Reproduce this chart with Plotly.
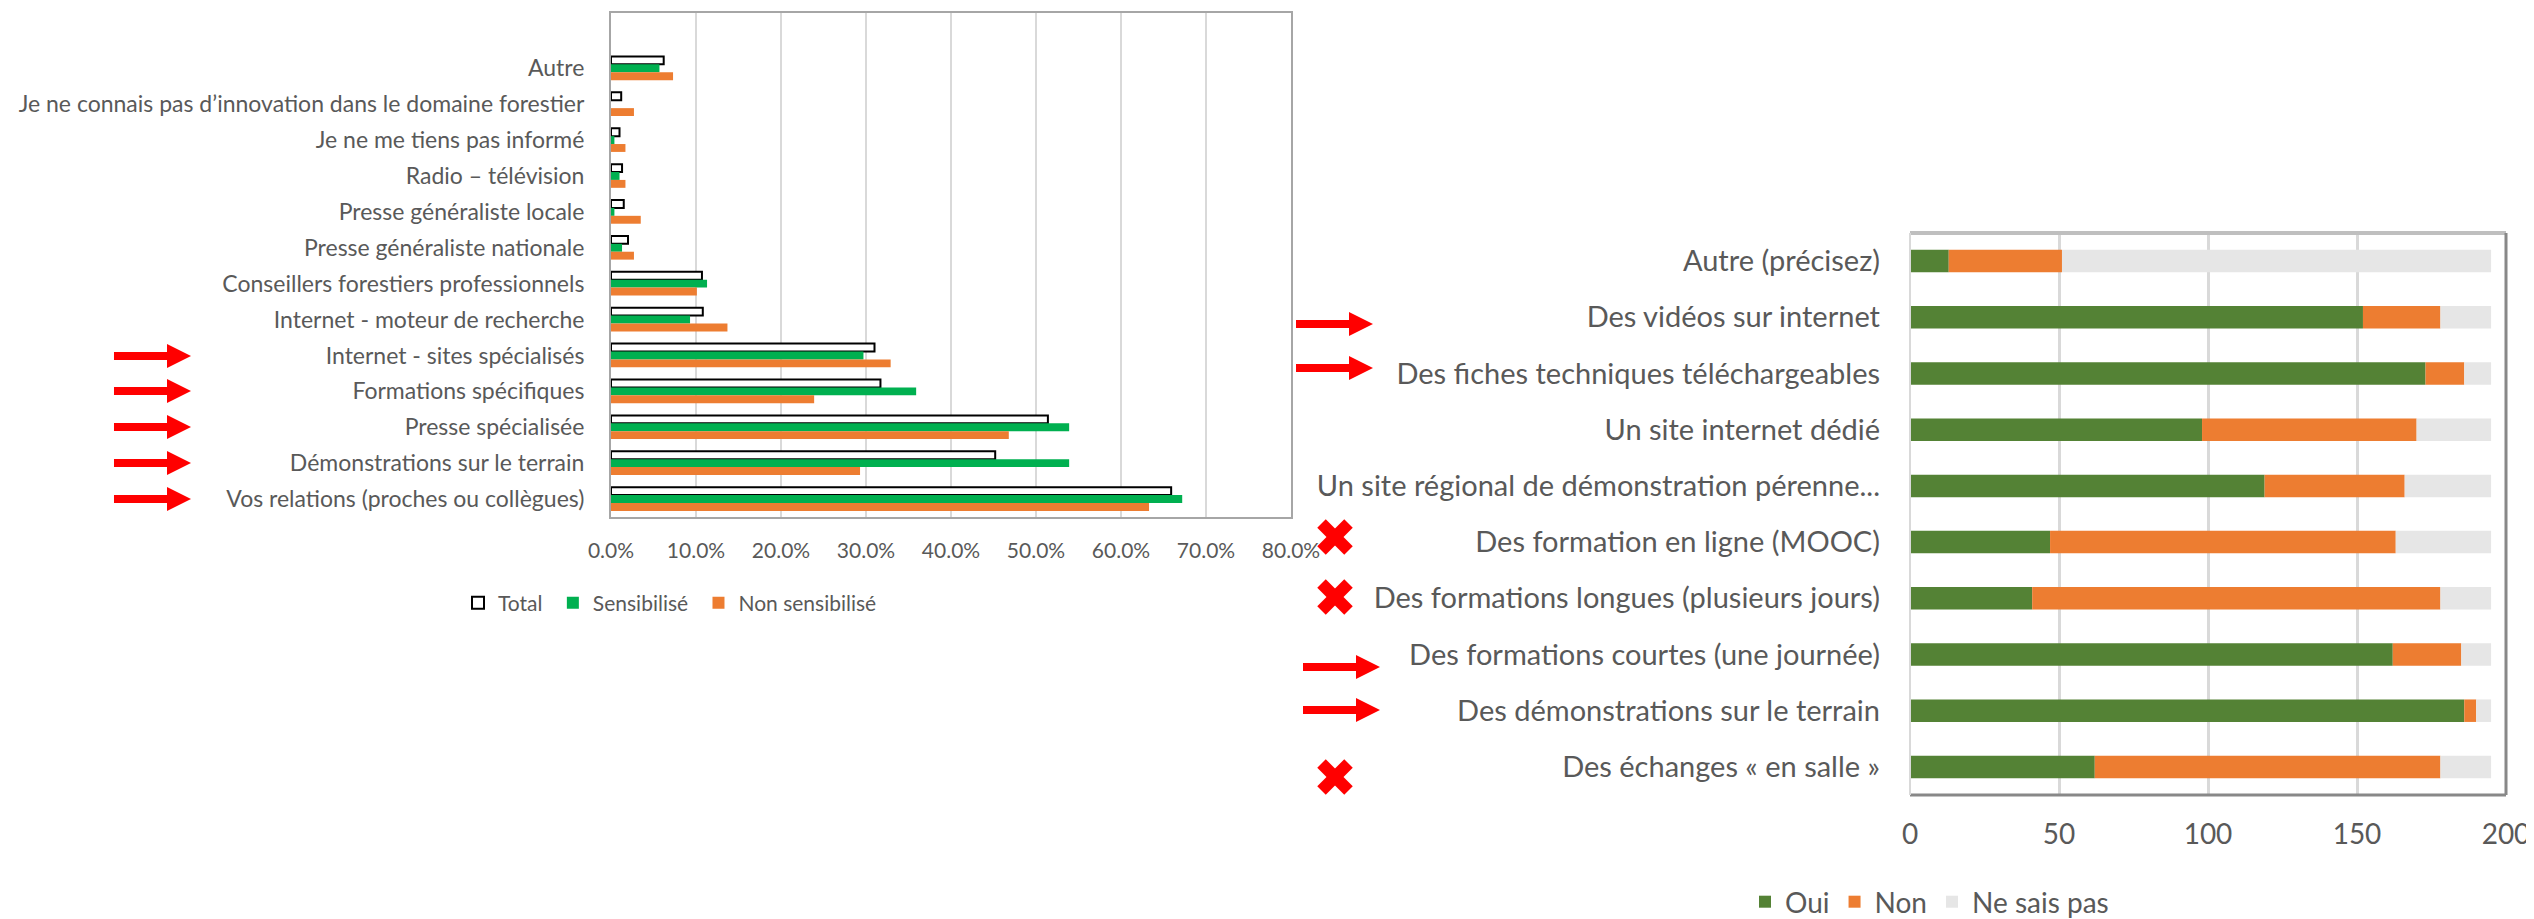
import plotly.graph_objects as go

# ---------------- Data ----------------
left_categories = [
    "Autre",
    "Je ne connais pas d’innovation dans le domaine forestier",
    "Je ne me tiens pas informé",
    "Radio – télévision",
    "Presse généraliste locale",
    "Presse généraliste nationale",
    "Conseillers forestiers professionnels",
    "Internet - moteur de recherche",
    "Internet - sites spécialisés",
    "Formations spécifiques",
    "Presse spécialisée",
    "Démonstrations sur le terrain",
    "Vos relations (proches ou collègues)",
]
total = [6.2, 1.2, 1.0, 1.3, 1.5, 2.0, 10.7, 10.8, 31.0, 31.7, 51.4, 45.2, 65.9]
sensibilise = [5.7, 0.0, 0.4, 1.0, 0.4, 1.3, 11.3, 9.3, 29.7, 35.9, 53.9, 53.9, 67.2]
non_sensibilise = [7.3, 2.7, 1.7, 1.7, 3.5, 2.7, 10.1, 13.7, 32.9, 23.9, 46.8, 29.3, 63.3]

right_categories = [
    "Autre (précisez)",
    "Des vidéos sur internet",
    "Des fiches techniques téléchargeables",
    "Un site internet dédié",
    "Un site régional de démonstration pérenne...",
    "Des formation en ligne (MOOC)",
    "Des formations longues (plusieurs jours)",
    "Des formations courtes (une journée)",
    "Des démonstrations sur le terrain",
    "Des échanges « en salle »",
]
oui = [13, 152, 173, 98, 119, 47, 41, 162, 186, 62]
non = [38, 26, 13, 72, 47, 116, 137, 23, 4, 116]
ne_sais_pas = [144, 17, 9, 25, 29, 32, 17, 10, 5, 17]

left_ticks = [0, 10, 20, 30, 40, 50, 60, 70, 80]
right_ticks = [0, 50, 100, 150, 200]

# ---------------- Figure ----------------
# the page body has a default 8px margin: the figure is drawn at (8, 8)
OFF = 8
W, H = 2534 - OFF, 919 - OFF
FONT = "Lato"
TXT = "#595959"

def px(x):
    return (x - OFF) / W

def py(y):
    return 1 - (y - OFF) / H

fig = go.Figure()

fig.add_trace(go.Bar(
    y=left_categories, x=total, name="Total\u00a0", orientation="h",
    marker=dict(color="white", line=dict(color="black", width=2)),
    xaxis="x", yaxis="y", legend="legend"))
fig.add_trace(go.Bar(
    y=left_categories, x=sensibilise, name="Sensibilisé\u00a0", orientation="h",
    marker=dict(color="#00B050", line=dict(width=0)),
    xaxis="x", yaxis="y", legend="legend"))
fig.add_trace(go.Bar(
    y=left_categories, x=non_sensibilise, name="Non sensibilisé", orientation="h",
    marker=dict(color="#ED7D31", line=dict(width=0)),
    xaxis="x", yaxis="y", legend="legend"))

base_non = oui
base_nsp = [a + b for a, b in zip(oui, non)]
for name, vals, base, col in [
    ("Oui", oui, [0] * len(oui), "#548235"),
    ("Non", non, base_non, "#ED7D31"),
    ("Ne sais pas", ne_sais_pas, base_nsp, "#E6E6E6"),
]:
    fig.add_trace(go.Bar(
        y=right_categories, x=vals, base=base, name=name, orientation="h",
        width=0.4, offset=-0.2,
        marker=dict(color=col, line=dict(width=0)),
        xaxis="x2", yaxis="y2", legend="legend2"))

# decorations: red arrows and crosses (pixel positions)
def arrow(x0, x1, y, shaft=8, head_len=24, head_h=24):
    xs = x1 - head_len
    pts = [(x0, y - shaft / 2), (xs, y - shaft / 2), (xs, y - head_h / 2), (x1, y),
           (xs, y + head_h / 2), (xs, y + shaft / 2), (x0, y + shaft / 2)]
    path = "M " + " L ".join(f"{px(a):.5f},{py(b):.5f}" for a, b in pts) + " Z"
    return dict(type="path", xref="paper", yref="paper", path=path,
                fillcolor="#FF0000", line=dict(width=0), layer="above")

def cross(cx, cy, r=13.5, w=12):
    out = []
    for (a, b, c, d) in [(cx - r, cy - r, cx + r, cy + r), (cx - r, cy + r, cx + r, cy - r)]:
        out.append(dict(type="line", xref="paper", yref="paper",
                        x0=px(a), y0=py(b), x1=px(c), y1=py(d),
                        line=dict(color="#FF0000", width=w), layer="above"))
    return out

shapes = []
for y in [356, 391, 427, 463, 499]:
    shapes.append(arrow(114, 191, y))
for y in [324, 368]:
    shapes.append(arrow(1296, 1373, y))
for y in [667, 710]:
    shapes.append(arrow(1303, 1380, y))
for y in [537, 597, 777]:
    shapes.extend(cross(1335, y))

# right chart border
shapes += [
    dict(type="line", xref="x2 domain", yref="y2 domain", x0=0, x1=1, y0=1, y1=1,
         line=dict(color="#BFBFBF", width=4)),
    dict(type="line", xref="x2 domain", yref="y2 domain", x0=1, x1=1, y0=0, y1=1,
         line=dict(color="#888888", width=3)),
    dict(type="line", xref="x2 domain", yref="y2 domain", x0=0, x1=1, y0=0, y1=0,
         line=dict(color="#888888", width=3)),
    dict(type="line", xref="x2 domain", yref="y2 domain", x0=0, x1=0, y0=0, y1=1,
         line=dict(color="#D9D9D9", width=2)),
]

fig.update_layout(
    width=W, height=H,
    margin=dict(l=0, r=0, t=0, b=0, autoexpand=False),
    paper_bgcolor="white", plot_bgcolor="white",
    font=dict(family=FONT, color=TXT),
    barmode="group", bargap=0.34, bargroupgap=0,
    showlegend=True,
    xaxis=dict(domain=[px(611), px(1291)], anchor="y", range=[0, 80], automargin=False,
               tickvals=left_ticks, ticktext=[f"{v:.1f}%" for v in left_ticks],
               showgrid=True, gridcolor="#D9D9D9", gridwidth=1.5,
               showline=True, linecolor="#A6A6A6", linewidth=2, mirror=True,
               zeroline=False, ticks="", ticklabelstandoff=14,
               tickfont=dict(size=21, color=TXT, family=FONT)),
    yaxis=dict(domain=[py(517), py(13)], anchor="x", type="category", automargin=False,
               range=[12.5, -1.54],
               showline=True, linecolor="#A6A6A6", linewidth=2, mirror=True,
               showgrid=False, ticks="", ticklabelstandoff=20,
               tickfont=dict(size=23, color=TXT, family=FONT)),
    xaxis2=dict(domain=[px(1910), px(2506)], anchor="y2", range=[0, 200], automargin=False,
                tickvals=right_ticks,
                showgrid=True, gridcolor="#D9D9D9", gridwidth=3,
                showline=False, zeroline=False, ticks="", ticklabelstandoff=20,
                tickfont=dict(size=28, color=TXT, family=FONT)),
    yaxis2=dict(domain=[py(795), py(233)], anchor="x2", type="category", automargin=False,
                range=[9.5, -0.5], showline=False, showgrid=False,
                ticks="", ticklabelstandoff=29,
                tickfont=dict(size=29, color=TXT, family=FONT)),
    legend=dict(orientation="h", x=px(458), y=py(603), xanchor="left", yanchor="middle",
                font=dict(size=21, color=TXT, family=FONT), traceorder="normal",
                bgcolor="rgba(0,0,0,0)"),
    legend2=dict(orientation="h", x=px(1745), y=py(902), xanchor="left", yanchor="middle",
                 font=dict(size=28, color=TXT, family=FONT), traceorder="normal",
                 bgcolor="rgba(0,0,0,0)"),
    shapes=shapes,
)

fig.write_html("out.html")
